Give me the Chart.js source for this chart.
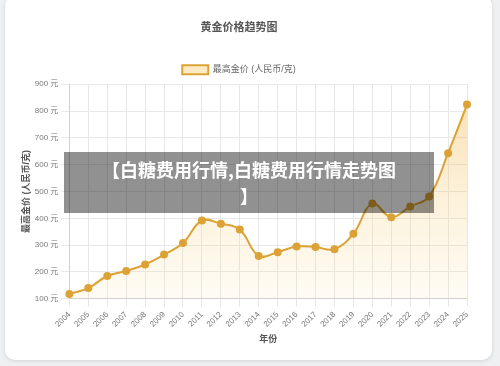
<!DOCTYPE html>
<html>
<head>
<meta charset="utf-8">
<script src="https://cdn.jsdelivr.net/npm/chart.js@4.4.0/dist/chart.umd.min.js"></script>
<style>
  html, body { margin: 0; padding: 0; width: 500px; height: 366px; background: #eef0f2; overflow: hidden; }
  .card { position: absolute; left: 5px; top: -4px; width: 487px; height: 364px; background: #fff; border-radius: 10px; box-shadow: 0 1px 4px rgba(0,0,0,0.12); }
  #chartCanvas { position: absolute; left: 0; top: 0; }
  .banner { position: absolute; left: 64px; top: 152px; width: 370px; height: 61px; background: rgba(0,0,0,0.43);
    color: #fff; font: bold 18px "Noto Sans CJK SC", sans-serif; text-align: center; line-height: 26px; padding-top: 4px; box-sizing: border-box; }
</style>
</head>
<body>
<div class="card">
  <canvas id="chartCanvas" width="487" height="364"></canvas>
</div>
<div class="banner">【白糖费用行情,白糖费用行情走势图<br>】</div>
<script>
const years = ["2004","2005","2006","2007","2008","2009","2010","2011","2012","2013","2014",
  "2015","2016","2017","2018","2019","2020","2021","2022","2023","2024","2025"];
const maxPrice = [118, 140, 185, 204, 228, 265, 308, 392, 380, 358, 260,
  274, 295, 293, 285, 343, 455, 404, 444, 481, 643, 824];
const yTicks = [100, 200, 300, 400, 500, 600, 700, 800, 900];

const fontFamily = "'Liberation Sans', 'Noto Sans CJK SC', sans-serif";
const ctx = document.getElementById("chartCanvas").getContext("2d");

function areaFill(context) {
  const area = context.chart.chartArea;
  if (!area) return "rgba(240,190,90,0.2)";
  const g = context.chart.ctx.createLinearGradient(0, area.top, 0, area.bottom);
  g.addColorStop(0, "rgba(236,170,50,0.4)");
  g.addColorStop(1, "rgba(252,225,160,0.12)");
  return g;
}

new Chart(ctx, {
  type: "line",
  data: {
    labels: years,
    datasets: [{
      label: "最高金价 (人民币/克)",
      data: maxPrice,
      borderColor: "#dca236",
      backgroundColor: areaFill,
      borderWidth: 2,
      fill: true,
      tension: 0.4,
      pointRadius: 3,
      pointBackgroundColor: "#dca236",
      pointBorderColor: "#dca236"
    }]
  },
  options: {
    responsive: false,
    animation: false,
    layout: { padding: { left: 6, right: 25, top: 10, bottom: 11 } },
    plugins: {
      title: {
        display: true,
        text: "黄金价格趋势图",
        color: "#555",
        font: { family: fontFamily, size: 11, weight: "bold" },
        padding: { top: 15, bottom: 23 }
      },
      legend: {
        labels: {
          color: "#666",
          boxWidth: 26,
          boxHeight: 9,
          padding: 8,
          font: { family: fontFamily, size: 9 },
          generateLabels: chart => [{
            text: "最高金价 (人民币/克)",
            fillStyle: "rgba(253,226,170,0.7)",
            strokeStyle: "#dca236",
            lineWidth: 2,
            fontColor: "#666",
            datasetIndex: 0
          }]
        }
      },
      tooltip: { enabled: false }
    },
    scales: {
      x: {
        grid: { color: "#e8e8e8" },
        ticks: { color: "#777", font: { family: fontFamily, size: 8 }, maxRotation: 45, minRotation: 45 },
        title: { display: true, text: "年份", color: "#555", font: { family: fontFamily, size: 9, weight: "bold" }, padding: { top: 2 } }
      },
      y: {
        min: 100,
        max: 900,
        afterBuildTicks: axis => { axis.ticks = yTicks.map(v => ({ value: v })); },
        grid: { color: "#e8e8e8" },
        ticks: { color: "#777", font: { family: fontFamily, size: 8 }, callback: v => v + " 元" },
        title: { display: true, text: "最高金价 (人民币/克)", color: "#555", padding: { top: 10, bottom: 0 },
          font: { family: fontFamily, size: 9, weight: "bold" } }
      }
    }
  }
});
</script>
</body>
</html>
